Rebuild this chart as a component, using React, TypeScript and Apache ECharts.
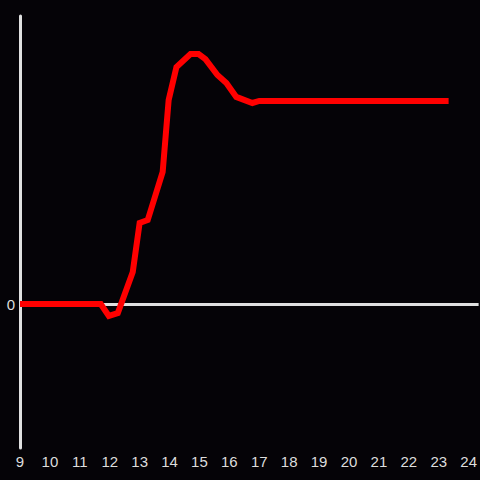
import React, { useEffect, useRef } from "react";
import * as echarts from "echarts";

const hours: number[] = [9, 11.7, 11.97, 12.27, 12.77, 13.0, 13.27, 13.77, 13.97, 14.23, 14.7, 14.97, 15.2, 15.6, 15.9, 16.23, 16.77, 17.0, 23.33];
const values: number[] = [0, 0, -0.083, -0.063, 0.222, 0.563, 0.583, 0.917, 1.417, 1.646, 1.736, 1.736, 1.7, 1.59, 1.535, 1.438, 1.396, 1.41, 1.41];
const xMin = 9;
const xMax = 24.333;
const yMin = -1;
const yMax = 2;

export default function App() {
  const ref = useRef<HTMLDivElement>(null);
  useEffect(() => {
    if (!ref.current) return;
    const chart = echarts.init(ref.current, null, { renderer: "svg" });
    chart.setOption({
      animation: false,
      backgroundColor: "#050307",
      grid: { left: 20, right: 0, top: 16, bottom: 32 },
      xAxis: {
        type: "value",
        min: xMin,
        max: xMax,
        interval: 1,
        axisLine: { show: false, onZero: false },
        axisTick: { show: false },
        splitLine: { show: false },
        axisLabel: {
          color: "#dddddd",
          fontSize: 15,
          margin: 6,
          showMaxLabel: false,
          fontFamily: "Liberation Sans, Arial, sans-serif",
        },
      },
      yAxis: {
        type: "value",
        min: yMin,
        max: yMax,
        interval: 1,
        axisLine: { show: true, lineStyle: { color: "#e0e0e0", width: 3 } },
        axisTick: { show: false },
        splitLine: { show: false },
        axisLabel: {
          color: "#dddddd",
          fontSize: 15,
          margin: 5,
          fontFamily: "Liberation Sans, Arial, sans-serif",
          formatter: (v: number) => (v === 0 ? "0" : ""),
        },
      },
      series: [
        {
          type: "line",
          data: hours.map((h, i) => [h, values[i]]),
          symbol: "none",
          lineStyle: { color: "#ff0000", width: 6, cap: "butt", join: "miter" },
          z: 3,
          markLine: {
            silent: true,
            symbol: ["none", "none"],
            label: { show: false },
            lineStyle: { color: "#e0e0e0", width: 3, type: "solid" },
            data: [{ yAxis: 0 }],
            z: 1,
          },
        },
      ],
    });
    return () => chart.dispose();
  }, []);
  return <div ref={ref} style={{ position: "absolute", left: 0, top: 0, width: 480, height: 480 }} />;
}
